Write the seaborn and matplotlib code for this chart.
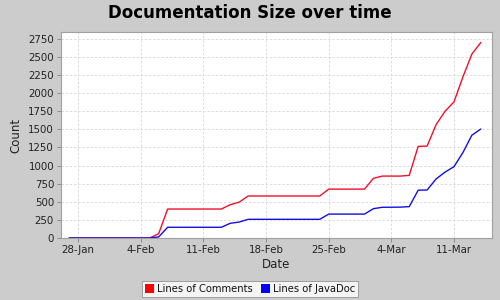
import numpy as np
import pandas as pd
import matplotlib
matplotlib.use("Agg")
import matplotlib.pyplot as plt
import matplotlib.dates as mdates
from matplotlib.patches import Patch
import seaborn as sns

title = "Documentation Size over time"
series_names = ["Lines of Comments", "Lines of JavaDoc"]
start_date = "2007-01-27"
end_date = "2007-03-14"
comments = [0, 0, 0, 0, 0, 0, 0, 0, 0, 0,
            60,
            400, 400, 400, 400, 400, 400, 400,
            460, 495,
            580, 580, 580, 580, 580, 580, 580, 580, 580,
            675, 675, 675, 675, 675,
            824, 855, 855, 855, 865,
            1265, 1270, 1565, 1750, 1880, 2225, 2540, 2700]
javadoc = [0, 0, 0, 0, 0, 0, 0, 0, 0, 0,
           15,
           148, 148, 148, 148, 148, 148, 148,
           203, 220,
           258, 258, 258, 258, 258, 258, 258, 258, 258,
           330, 330, 330, 330, 330,
           405, 424, 425, 426, 433,
           660, 663, 815, 910, 985, 1180, 1420, 1505]
y_ticks = [0, 250, 500, 750, 1000, 1250, 1500, 1750, 2000, 2250, 2500, 2750]
x_tick_dates = ["2007-01-28", "2007-02-04", "2007-02-11", "2007-02-18",
                "2007-02-25", "2007-03-04", "2007-03-11"]

dates = pd.date_range(start_date, end_date, freq="D")
df = pd.DataFrame({
    "Date": np.concatenate([dates, dates]),
    "Count": comments + javadoc,
    "Series": [series_names[0]] * len(dates) + [series_names[1]] * len(dates),
})

bg = "#CCCCCC"
sns.set_style("white")
plt.rcParams["font.family"] = ["DejaVu Sans"]

fig = plt.figure(figsize=(5, 3), dpi=100, facecolor=bg)
ax = fig.add_axes([0.122, 0.2067, 0.862, 0.6866])
ax.set_facecolor("white")

palette = {series_names[0]: "#F0102A", series_names[1]: "#1010E0"}
sns.lineplot(data=df, x="Date", y="Count", hue="Series", palette=palette,
             linewidth=1.0, legend=False, ax=ax, zorder=3)

ax.set_xlim(pd.Timestamp("2007-01-26 02:00"), pd.Timestamp("2007-03-15 06:00"))
ax.set_ylim(0, 2845)
ax.set_yticks(y_ticks)
ax.set_xticks(pd.to_datetime(x_tick_dates))
ax.xaxis.set_major_formatter(matplotlib.ticker.FuncFormatter(
    lambda v, p: f"{mdates.num2date(v).day}-{mdates.num2date(v).strftime('%b')}"))

ax.grid(True, color="#D8D8D8", linestyle=(0, (3, 2)), linewidth=0.6)
for s in ax.spines.values():
    s.set_color("#A0A0A0")
    s.set_linewidth(0.8)
ax.tick_params(axis="both", direction="out", length=3, width=0.6, color="#808080",
               labelsize=7.4, labelcolor="#222222", pad=2, left=True, bottom=True)

ax.set_xlabel("Date", fontsize=8.5, color="#222222", labelpad=2)
ax.set_ylabel("Count", fontsize=8.5, color="#222222", labelpad=4)

fig.suptitle(title, fontsize=12, fontweight="bold", color="black", y=0.985, va="top")

handles = [Patch(facecolor=c, edgecolor="none") for c in ["#FF0000", "#0000FF"]]
leg = fig.legend(handles, series_names, loc="center", bbox_to_anchor=(0.5, 0.037),
                 ncol=2, fontsize=7.2, frameon=True, fancybox=False,
                 handlelength=0.9, handleheight=0.9, handletextpad=0.3,
                 columnspacing=0.8, borderpad=0.3, edgecolor="#808080")
leg.get_frame().set_facecolor("white")
leg.get_frame().set_linewidth(0.6)
for t in leg.get_texts():
    t.set_color("#111111")

fig.savefig("out.png", dpi=100, facecolor=bg)
